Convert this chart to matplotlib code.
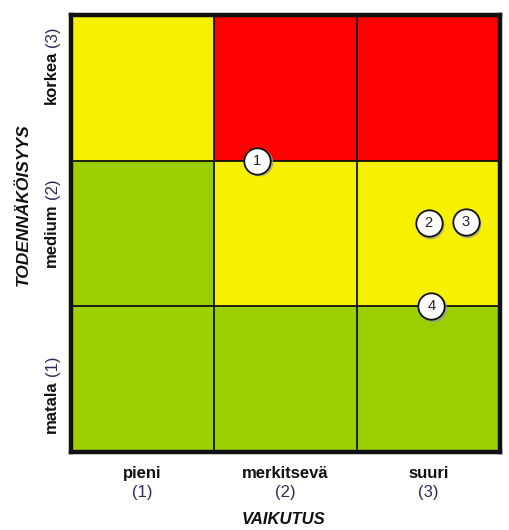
import numpy as np
import matplotlib.pyplot as plt
from matplotlib.colors import ListedColormap

plt.rcParams['font.family'] = ['Liberation Sans', 'DejaVu Sans']

# risk level for each cell, rows = probability (low -> high), cols = impact (low -> high)
risk = [[0, 0, 0],
        [0, 1, 1],
        [1, 2, 2]]
risk_colors = ['#9bcf00', '#f6f100', '#ff0000']

impact_names = ['pieni', 'merkitsevä', 'suuri']
impact_nums = ['(1)', '(2)', '(3)']
prob_names = ['matala', 'medium', 'korkea']
prob_nums = ['(1)', '(2)', '(3)']

# numbered risks placed on the matrix (impact, probability)
risk_ids = ['1', '2', '3', '4']
risk_x = [1.30, 2.50, 2.76, 2.52]
risk_y = [2.00, 1.57, 1.58, 1.00]

fig = plt.figure(figsize=(5.1, 5.3), dpi=100)
ax = fig.add_axes([71/510, 78/530, 429/510, 437/530])

ax.pcolormesh(np.arange(4), np.arange(4), np.array(risk),
              cmap=ListedColormap(risk_colors), vmin=0, vmax=2)
for v in [1, 2]:
    ax.axvline(v, color='#111111', lw=1.3)
    ax.axhline(v, color='#111111', lw=1.3)
ax.set_xlim(0, 3)
ax.set_ylim(0, 3)
for s in ax.spines.values():
    s.set_linewidth(3.2)
    s.set_color('#111111')
ax.set_xticks([])
ax.set_yticks([])

# risk markers
for i, x, y in zip(risk_ids, risk_x, risk_y):
    ax.plot(x + 0.012, y - 0.012, 'o', ms=19, color='#9a9a9a', alpha=0.6, zorder=4, clip_on=False)
    ax.plot(x, y, 'o', ms=19, mfc='white', mec='#111111', mew=1.3, zorder=5, clip_on=False)
    ax.text(x, y, i, ha='center', va='center', fontsize=10.5, color='#222222', zorder=6)

# impact labels below the axes
for k in range(3):
    ax.text(k + 0.5, -0.15, impact_names[k], ha='center', va='center', fontsize=12,
            fontweight='bold', color='#111111', clip_on=False)
    ax.text(k + 0.5, -0.28, impact_nums[k], ha='center', va='center', fontsize=12,
            color='#2b2b55', clip_on=False)

# probability labels on the left, rotated
label_top = [(452 - 380) / 146, (452 - 203) / 146, (452 - 50) / 146]
for k in range(3):
    t = ax.text(-0.14, label_top[k], prob_names[k], rotation=90, ha='center', va='top',
                fontsize=12, fontweight='bold', color='#111111', clip_on=False)
    ax.annotate(prob_nums[k], xy=(0.5, 1), xycoords=t, xytext=(1, 3), textcoords='offset points',
                rotation=90, ha='center', va='bottom', fontsize=12, color='#2b2b55')

fig.text(23/510, 1 - 205/530, 'TODENNÄKÖISYYS', rotation=90, ha='center', va='center',
         fontsize=12.5, fontweight='bold', fontstyle='italic', color='#111111')
fig.text(283/510, 1 - 520/530, 'VAIKUTUS', ha='center', va='center',
         fontsize=12, fontweight='bold', fontstyle='italic', color='#111111')

fig.savefig('out.png', dpi=100)
